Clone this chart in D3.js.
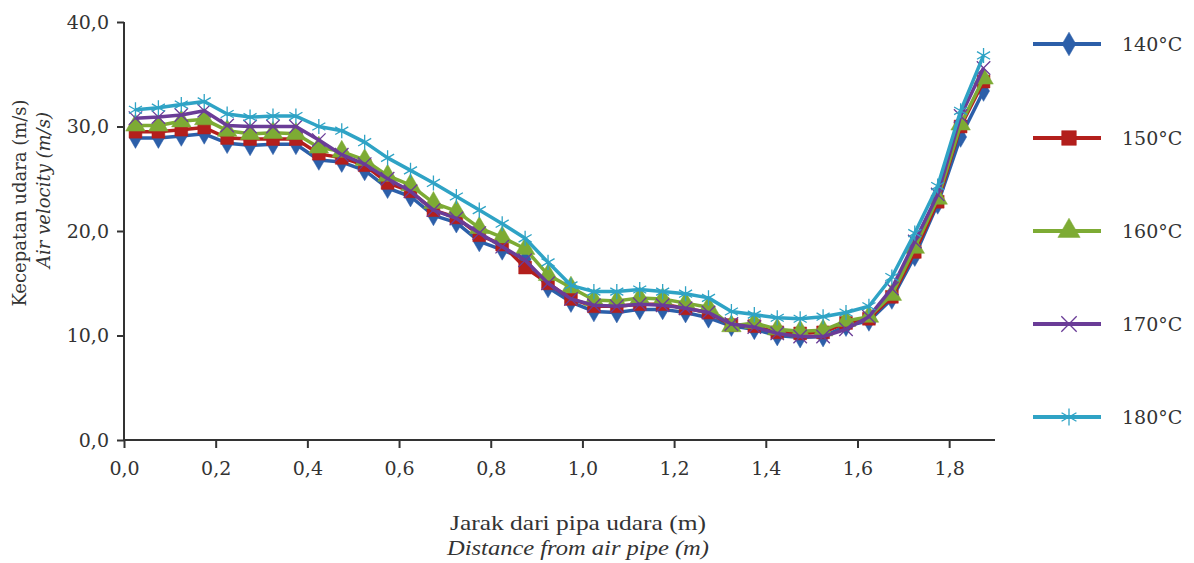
<!DOCTYPE html>
<html><head><meta charset="utf-8">
<script src="https://cdn.jsdelivr.net/npm/d3@7"></script>
<style>body{margin:0;background:#fff}svg{display:block}</style>
</head><body>
<svg id="chart" width="1194" height="563"></svg>
<script>
const distances = [0.025,0.075,0.125,0.175,0.225,0.275,0.325,0.375,0.425,0.475,0.525,0.575,0.625,0.675,0.725,0.775,0.825,0.875,0.925,0.975,1.025,1.075,1.125,1.175,1.225,1.275,1.325,1.375,1.425,1.475,1.525,1.575,1.625,1.675,1.725,1.775,1.825,1.875];
const v140 = [28.9,28.9,29.1,29.3,28.4,28.2,28.3,28.3,26.8,26.6,25.8,24.1,23.3,21.5,20.8,19.0,18.2,17.3,14.6,13.2,12.3,12.2,12.5,12.5,12.2,11.7,10.9,10.6,10.0,9.8,9.9,10.9,11.4,13.5,17.6,22.6,29.0,33.4];
const v150 = [29.5,29.5,29.7,29.9,28.9,28.8,28.8,28.8,27.4,27.0,26.3,24.6,23.8,22.0,21.3,19.6,18.7,16.5,15.0,13.5,12.8,12.8,13.0,13.0,12.6,12.2,11.0,10.9,10.3,10.2,10.3,11.2,11.6,13.7,18.0,22.8,30.0,34.3];
const v160 = [30.1,30.1,30.5,30.7,29.6,29.3,29.4,29.3,28.0,27.6,26.8,25.3,24.4,22.7,21.9,20.3,19.4,18.3,15.8,14.6,13.4,13.3,13.6,13.5,13.1,12.7,10.9,11.2,10.6,10.4,10.5,11.4,11.8,13.9,18.4,23.1,30.2,34.6];
const v170 = [30.8,30.9,31.1,31.5,30.1,30.0,30.0,30.0,28.7,27.3,26.4,25.0,23.8,22.0,21.2,19.8,18.5,17.2,15.0,13.5,12.9,12.8,13.0,12.9,12.6,12.2,11.1,10.8,10.2,9.9,9.9,10.6,11.8,14.5,19.0,23.5,31.0,35.6];
const v180 = [31.6,31.8,32.1,32.4,31.2,30.9,31.0,31.0,30.0,29.6,28.5,27.0,25.8,24.6,23.3,22.0,20.7,19.3,17.0,14.8,14.2,14.2,14.4,14.2,14.0,13.6,12.3,12.0,11.7,11.6,11.8,12.2,12.8,15.6,19.8,24.3,31.5,36.8];
const seriesNames = ["140°C","150°C","160°C","170°C","180°C"];
const xTicks = [0,0.2,0.4,0.6,0.8,1.0,1.2,1.4,1.6,1.8];
const yTicks = [0,10,20,30,40];

const colors = ["#2c5fa9","#b31f1c","#7dab34","#6a3c97","#2fa3c5"];
const symbols = [d3.symbolDiamond, d3.symbolSquare, d3.symbolTriangle, d3.symbolTimes, d3.symbolAsterisk];
const symSizes = [125, 165, 165, 120, 160];
const filled = [true,true,true,false,false];
const seriesVals = [v140,v150,v160,v170,v180];

const svg = d3.select("#chart");
const x = d3.scaleLinear().domain([0,1.9]).range([124,995]);
const y = d3.scaleLinear().domain([0,40]).range([440,22]);
const fmt = v => d3.format(".1f")(v).replace(".", ",");
const tickFont = "'DejaVu Serif', serif";

// axes
const yAxis = svg.append("g").attr("transform","translate(124,0)")
  .call(d3.axisLeft(y).tickValues(yTicks).tickSize(7).tickPadding(8).tickFormat(fmt));
const xAxis = svg.append("g").attr("transform","translate(0,440)")
  .call(d3.axisBottom(x).tickValues(xTicks).tickSize(8).tickPadding(14).tickFormat(fmt));
[yAxis,xAxis].forEach(a=>{
  a.select(".domain").attr("stroke","#333").attr("stroke-width",2);
  a.selectAll(".tick line").attr("stroke","#333").attr("stroke-width",2);
  a.selectAll(".tick text").attr("fill","#333").style("font-family",tickFont).style("font-size","19px");
});
xAxis.select(".domain").attr("d","M124,0H995");
yAxis.select(".domain").attr("d","M0,440V22");

// series
const line = d3.line().x((d,i)=>x(distances[i])).y(d=>y(d));
seriesVals.forEach((vals,k)=>{
  const g = svg.append("g");
  g.append("path").datum(vals).attr("d",line).attr("fill","none")
    .attr("stroke",colors[k]).attr("stroke-width",3.5).attr("stroke-linejoin","round");
  const sym = d3.symbol().type(symbols[k]).size(symSizes[k]);
  g.selectAll("path.m").data(vals).join("path").attr("class","m")
    .attr("transform",(d,i)=>`translate(${x(distances[i])},${y(d)})`)
    .attr("d",sym)
    .attr("fill",filled[k]?colors[k]:"none")
    .attr("stroke",colors[k]).attr("stroke-width",filled[k]?0.5:1.3);
});

// legend
const legY = [44,138,231,324,417];
seriesNames.forEach((name,k)=>{
  const g = svg.append("g").attr("transform",`translate(0,${legY[k]})`);
  g.append("line").attr("x1",1033).attr("x2",1101).attr("y1",0).attr("y2",0)
    .attr("stroke",colors[k]).attr("stroke-width",4);
  g.append("path").attr("transform","translate(1069,0)")
    .attr("d",d3.symbol().type(symbols[k]).size(symSizes[k]*1.3)())
    .attr("fill",filled[k]?colors[k]:"none").attr("stroke",colors[k]).attr("stroke-width",filled[k]?0.5:1.3);
  g.append("text").attr("x",1122).attr("y",7).text(name)
    .attr("fill","#333").style("font-family",tickFont).style("font-size","19px");
});

// axis titles
const lab = "'Liberation Serif', serif";
svg.append("text").attr("x",578).attr("y",530).attr("text-anchor","middle")
  .attr("fill","#333").style("font-family",lab).style("font-size","21px")
  .attr("textLength",256).attr("lengthAdjust","spacingAndGlyphs").text("Jarak dari pipa udara (m)");
svg.append("text").attr("x",578).attr("y",555).attr("text-anchor","middle")
  .attr("fill","#333").style("font-family",lab).style("font-size","21px").style("font-style","italic")
  .attr("textLength",262).attr("lengthAdjust","spacingAndGlyphs").text("Distance from air pipe (m)");
svg.append("text").attr("transform","translate(26,203) rotate(-90)").attr("text-anchor","middle")
  .attr("fill","#333").style("font-family",tickFont).style("font-size","18px").text("Kecepatan udara (m/s)");
svg.append("text").attr("transform","translate(50,190) rotate(-90)").attr("text-anchor","middle")
  .attr("fill","#333").style("font-family",tickFont).style("font-size","18px").style("font-style","italic").text("Air velocity (m/s)");
</script>
</body></html>
